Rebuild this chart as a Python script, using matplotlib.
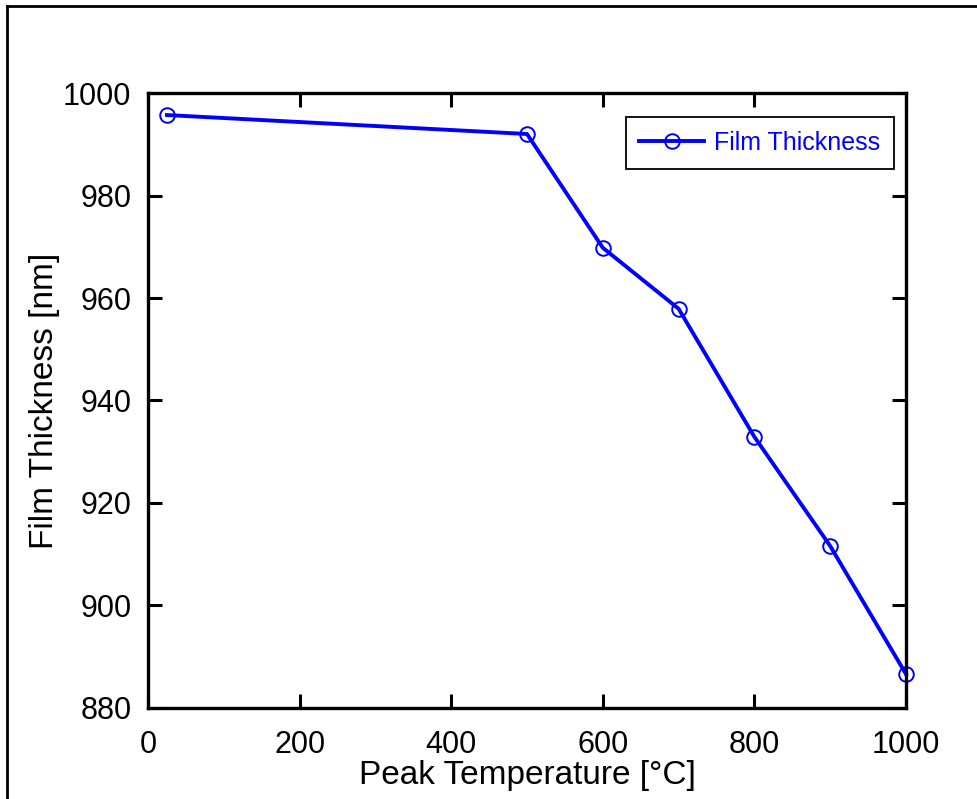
# Film thickness vs peak temperature
import matplotlib.pyplot as plt
from matplotlib.lines import Line2D

plt.rcParams['font.family'] = ['Liberation Sans', 'DejaVu Sans']

# data
temp = [25, 500, 600, 700, 800, 900, 1000]
thickness = [995.7, 992.0, 969.8, 957.9, 932.9, 911.6, 886.6]
x_ticks = [0, 200, 400, 600, 800, 1000]
y_ticks = [880, 900, 920, 940, 960, 980, 1000]

fig = plt.figure(figsize=(9.78, 7.99), dpi=100)
ax = fig.add_axes([0.1513, 0.1139, 0.7751, 0.7697])

ax.plot(temp, thickness, color='#0000ff', linewidth=2.8, marker='o',
        markersize=10.5, markerfacecolor='none', markeredgecolor='#0000ff',
        markeredgewidth=1.4, label='Film Thickness', clip_on=False)

ax.set_xlim(0, 1000)
ax.set_ylim(880, 1000)
ax.set_xticks(x_ticks)
ax.set_yticks(y_ticks)
ax.tick_params(direction='in', length=10, width=2.2, labelsize=22,
               top=True, right=True, pad=12)
ax.tick_params(axis='x', pad=16)
for s in ax.spines.values():
    s.set_linewidth(2.4)

ax.set_xlabel('Peak Temperature [°C]', fontsize=24, labelpad=0)
ax.set_ylabel('Film Thickness [nm]', fontsize=24, labelpad=2)

leg = ax.legend(loc='upper right', fontsize=18, fancybox=False,
                edgecolor='black', framealpha=1, handlelength=2.6,
                handletextpad=0.4, borderpad=0.55,
                bbox_to_anchor=(1.001, 0.981))
leg.get_frame().set_linewidth(1.3)
for t in leg.get_texts():
    t.set_color('#0000ff')

# outer frame (left and top edges visible)
fig.add_artist(Line2D([0.0072, 0.0072], [0, 0.9925], transform=fig.transFigure,
                      color='black', linewidth=2))
fig.add_artist(Line2D([0.0072, 1], [0.9925, 0.9925], transform=fig.transFigure,
                      color='black', linewidth=2))

fig.savefig('out.png', dpi=100)
